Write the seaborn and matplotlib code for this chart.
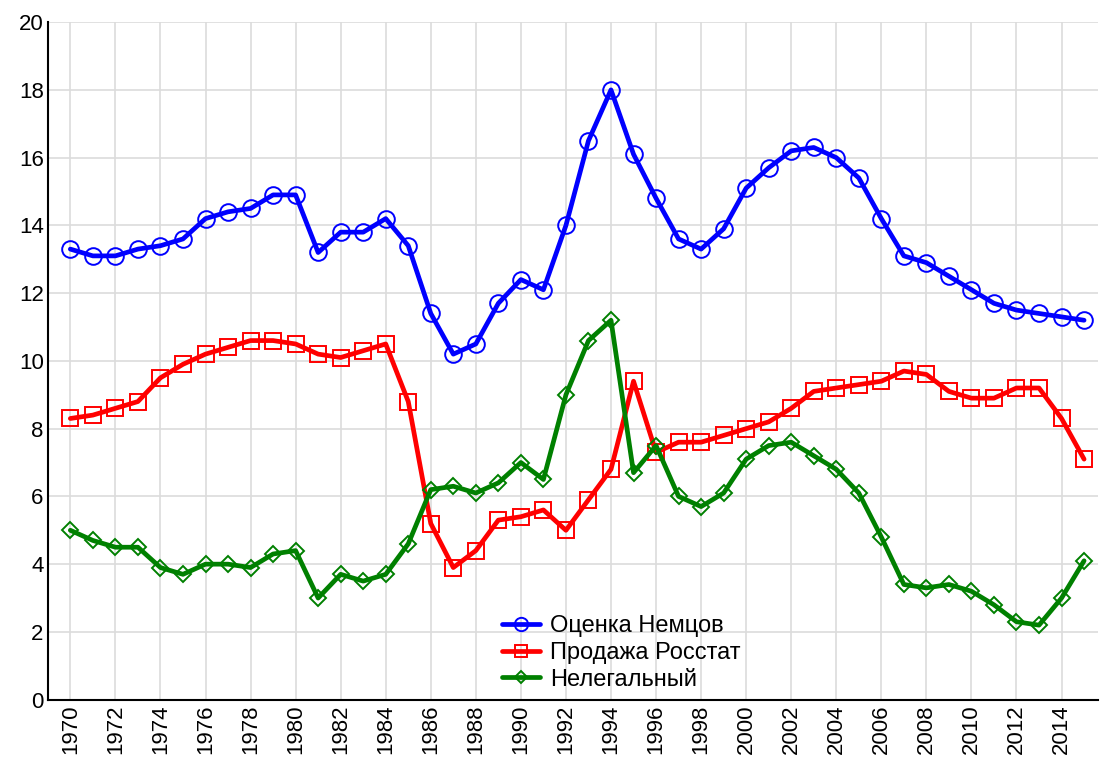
import numpy as np
import pandas as pd
import matplotlib
matplotlib.use('Agg')
import matplotlib.pyplot as plt
import seaborn as sns

# Data
years = list(range(1970, 2016))
nemtsov = [13.3, 13.1, 13.1, 13.3, 13.4, 13.6, 14.2, 14.4, 14.5, 14.9,
           14.9, 13.2, 13.8, 13.8, 14.2, 13.4, 11.4, 10.2, 10.5, 11.7,
           12.4, 12.1, 14.0, 16.5, 18.0, 16.1, 14.8, 13.6, 13.3, 13.9,
           15.1, 15.7, 16.2, 16.3, 16.0, 15.4, 14.2, 13.1, 12.9, 12.5,
           12.1, 11.7, 11.5, 11.4, 11.3, 11.2]
rosstat = [8.3, 8.4, 8.6, 8.8, 9.5, 9.9, 10.2, 10.4, 10.6, 10.6,
           10.5, 10.2, 10.1, 10.3, 10.5, 8.8, 5.2, 3.9, 4.4, 5.3,
           5.4, 5.6, 5.0, 5.9, 6.8, 9.4, 7.3, 7.6, 7.6, 7.8,
           8.0, 8.2, 8.6, 9.1, 9.2, 9.3, 9.4, 9.7, 9.6, 9.1,
           8.9, 8.9, 9.2, 9.2, 8.3, 7.1]
illegal = [5.0, 4.7, 4.5, 4.5, 3.9, 3.7, 4.0, 4.0, 3.9, 4.3,
           4.4, 3.0, 3.7, 3.5, 3.7, 4.6, 6.2, 6.3, 6.1, 6.4,
           7.0, 6.5, 9.0, 10.6, 11.2, 6.7, 7.5, 6.0, 5.7, 6.1,
           7.1, 7.5, 7.6, 7.2, 6.8, 6.1, 4.8, 3.4, 3.3, 3.4,
           3.2, 2.8, 2.3, 2.2, 3.0, 4.1]

series_names = ['Оценка Немцов', 'Продажа Росстат', 'Нелегальный']
series_values = [nemtsov, rosstat, illegal]
series_colors = ['#0000ff', '#ff0000', '#008000']
series_markers = ['o', 's', 'D']
series_msize = [12, 11, 8]

sns.set_style('white')
plt.rcParams['font.family'] = ['Liberation Sans', 'DejaVu Sans']

fig = plt.figure(figsize=(11.02, 7.63), dpi=100)
ax = fig.add_axes([0.044, 0.083, 0.952, 0.888])

for name, vals, col, mk, ms in zip(series_names, series_values, series_colors,
                                   series_markers, series_msize):
    df = pd.DataFrame({'year': years, 'value': vals})
    sns.lineplot(data=df, x='year', y='value', ax=ax, color=col, lw=3.4,
                 marker=mk, markersize=ms, markerfacecolor='none',
                 markeredgecolor=col, markeredgewidth=1.4, label=name)

ax.set_xlim(1969.03, 2015.6)
ax.set_ylim(0, 20)
ax.set_xticks(range(1970, 2015, 2))
ax.set_yticks(range(0, 21, 2))
ax.tick_params(axis='x', labelrotation=90, direction='in', length=5,
               labelsize=16, width=1, colors='black')
ax.tick_params(axis='y', direction='in', length=5, labelsize=16, width=1,
               colors='black')
ax.set_xlabel('')
ax.set_ylabel('')
ax.grid(True, color='#dcdcdc', lw=1.2)
ax.set_axisbelow(True)
for s in ['top', 'right']:
    ax.spines[s].set_visible(False)
for s in ['left', 'bottom']:
    ax.spines[s].set_color('black')
    ax.spines[s].set_linewidth(1.5)

leg = ax.legend(loc='lower left', bbox_to_anchor=(0.412, -0.018), frameon=False,
                fontsize=17, handlelength=1.6, handletextpad=0.42,
                labelspacing=0.2, markerscale=0.8)
for t in leg.get_texts():
    t.set_color('black')

fig.savefig('out.png', dpi=100)
